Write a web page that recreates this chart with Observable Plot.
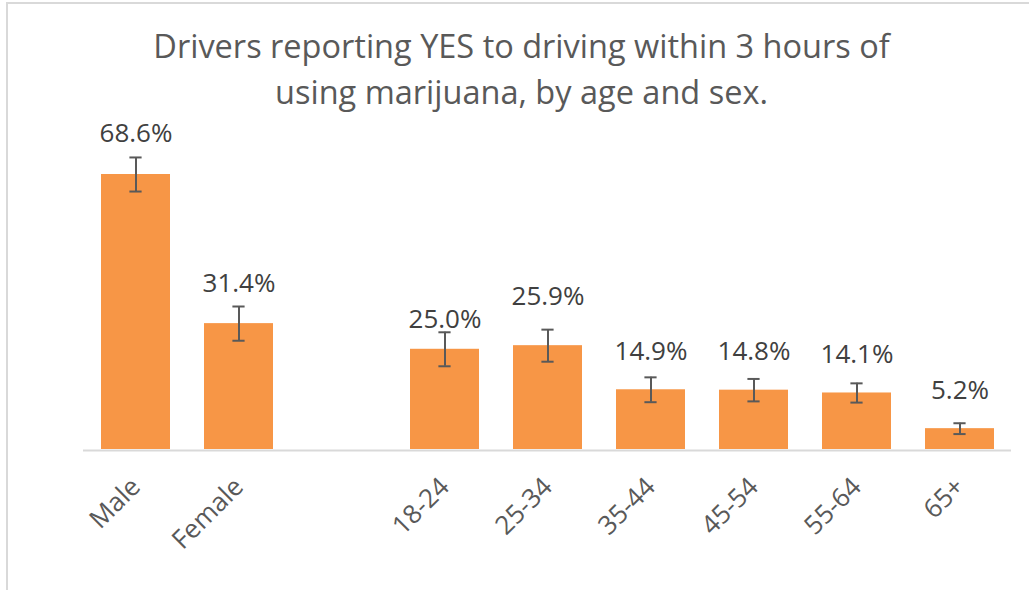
<!DOCTYPE html>
<html>
<head>
<meta charset="utf-8">
<script src="https://cdn.jsdelivr.net/npm/d3@7"></script>
<script src="https://cdn.jsdelivr.net/npm/@observablehq/plot@0.6"></script>
<style>
  html, body { margin: 0; padding: 0; background: #fff; }
  #wrap { position: relative; width: 1029px; height: 590px; overflow: hidden; font-family: "Open Sans", sans-serif; }
  #frame { position: absolute; left: 6px; top: 2px; width: 1100px; height: 700px;
           border-left: 2px solid #d9d9d9; border-top: 2px solid #d9d9d9; box-sizing: border-box; }
  #title { position: relative; box-sizing: border-box; width: 1029px; height: 115px; padding-top: 23px; padding-left: 14px;
           text-align: center; font-size: 32.5px; line-height: 46px; color: #595959; }
  #chart { position: relative; }
  #chart svg { display: block; }
</style>
</head>
<body>
<div id="wrap">
  <div id="frame"></div>
  <div id="title">Drivers reporting YES to driving within 3 hours of<br>using marijuana, by age and sex.</div>
  <div id="chart"></div>
</div>
<script>
// Data
const groups = ["Male", "Female", "18-24", "25-34", "35-44", "45-54", "55-64", "65+"];
const values = [68.6, 31.4, 25.0, 25.9, 14.9, 14.8, 14.1, 5.2];
const errors = [4.25, 4.27, 4.24, 4.0, 3.1, 2.8, 2.4, 1.35];
const valueLabels = ["68.6%", "31.4%", "25.0%", "25.9%", "14.9%", "14.8%", "14.1%", "5.2%"];
// Category axis: an empty slot separates sex from age groups
const xDomain = ["Male", "Female", "", "18-24", "25-34", "35-44", "45-54", "55-64", "65+"];

const data = groups.map((g, i) => ({cat: g, value: values[i], err: errors[i], label: valueLabels[i]}));

// label offsets (style) — a few labels were moved by hand in the original
const labelDy = {"Male": -41, "Female": -40, "18-24": -30, "25-34": -49.5};

const orange = "#F79646";
const errColor = "#595959";

const labelMarks = data.map(d => Plot.text([d], {
  x: "cat", y: "value", text: "label", dy: labelDy[d.cat] ?? -38,
  fontSize: 26, fill: "#404040", lineAnchor: "middle"
}));

const chart = Plot.plot({
  width: 1029,
  height: 475,
  marginLeft: 83,
  marginRight: 18,
  marginTop: 13.3,
  marginBottom: 141,
  x: {domain: xDomain, paddingInner: 0.333, paddingOuter: 0.1667, axis: null},
  y: {domain: [0, 80], axis: null},
  style: {fontFamily: "'Open Sans', sans-serif", background: "transparent", overflow: "visible"},
  marks: [
    Plot.ruleY([0], {stroke: "#d9d9d9", strokeWidth: 2, dy: 1}),
    Plot.barY(data, {x: "cat", y: "value", fill: orange}),
    Plot.ruleX(data, {x: "cat", y1: d => d.value - d.err, y2: d => d.value + d.err, stroke: errColor, strokeWidth: 2}),
    Plot.tickY(data, {x: "cat", y: d => d.value + d.err, stroke: errColor, strokeWidth: 2, insetLeft: 28.4, insetRight: 28.4}),
    Plot.tickY(data, {x: "cat", y: d => d.value - d.err, stroke: errColor, strokeWidth: 2, insetLeft: 28.4, insetRight: 28.4}),
    ...labelMarks,
    Plot.text(groups, {x: d => d, y: () => 0, text: d => d, dy: 33, rotate: -45,
      textAnchor: "end", lineAnchor: "middle", fontSize: 26, fill: "#595959"})
  ]
});
document.getElementById("chart").appendChild(chart);
</script>
</body>
</html>
